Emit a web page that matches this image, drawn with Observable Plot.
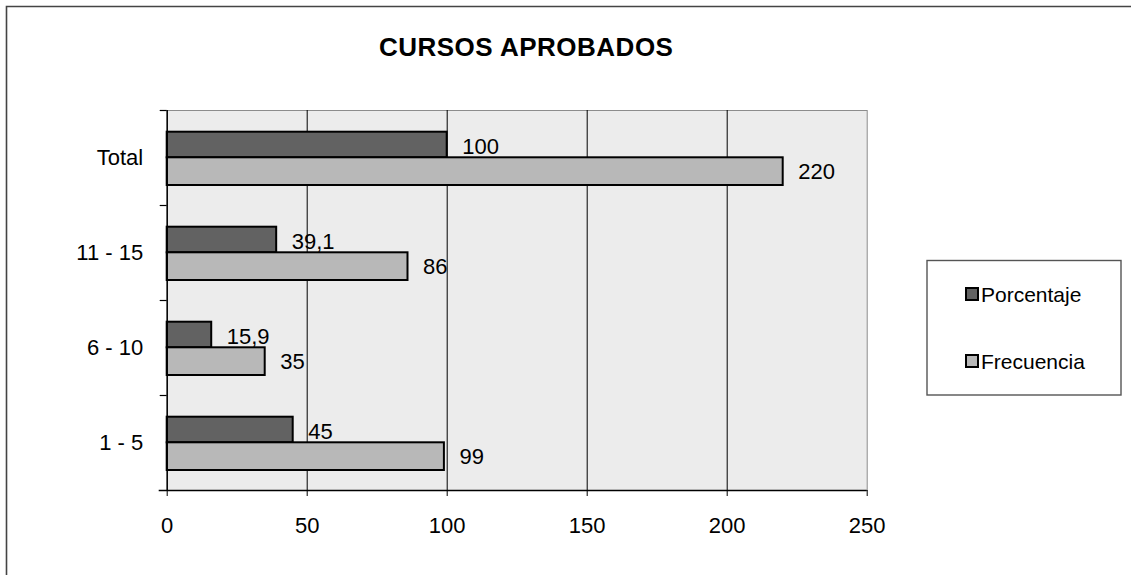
<!DOCTYPE html>
<html><head><meta charset="utf-8">
<script src="https://cdn.jsdelivr.net/npm/d3@7"></script>
<script src="https://cdn.jsdelivr.net/npm/@observablehq/plot@0.6"></script>
<style>html,body{margin:0;padding:0;background:#fff;} svg{display:block;}</style>
</head><body><div id="chart"></div>
<script>
const title = "CURSOS APROBADOS";
const categories = ["Total", "11 - 15", "6 - 10", "1 - 5"];
const seriesNames = ["Porcentaje", "Frecuencia"];
const porcentaje = [100, 39.1, 15.9, 45];
const frecuencia = [220, 86, 35, 99];
const xTicks = [0, 50, 100, 150, 200, 250];
const seriesColors = ["#626262", "#b8b8b8"];

const font = "'Liberation Sans', Arial, sans-serif";
const fmt = v => String(v).replace(".", ",");
const porRows = categories.map((c, i) => ({cat: c, series: seriesNames[0], value: porcentaje[i]}));
const freRows = categories.map((c, i) => ({cat: c, series: seriesNames[1], value: frecuencia[i]}));

const W = 1131, H = 575;
const plot = Plot.plot({
  width: W, height: H,
  marginLeft: 166.7, marginRight: W - 866.7, marginTop: 110, marginBottom: H - 490,
  style: {fontFamily: font, fontSize: "22px", background: "#fff", color: "#000"},
  x: {domain: [0, 250], ticks: xTicks},
  y: {domain: categories, padding: 0},
  color: {domain: seriesNames, range: seriesColors},
  marks: [
    Plot.frame({fill: "#ececec", stroke: "#8c8c8c", strokeWidth: 1}),
    Plot.gridX(xTicks.filter(v => v > 0 && v < 250), {stroke: "#000", strokeOpacity: 1, strokeWidth: 1}),
    Plot.barX(porRows, {x: "value", y: "cat", fill: "series", stroke: "#000", strokeWidth: 2, insetTop: 21.7, insetBottom: 47.7}),
    Plot.barX(freRows, {x: "value", y: "cat", fill: "series", stroke: "#000", strokeWidth: 2, insetTop: 47.3, insetBottom: 20}),
    Plot.text(porRows, {x: "value", y: "cat", text: d => fmt(d.value), dx: 15, dy: -11.5, textAnchor: "start", fontSize: 22, fill: "#000"}),
    Plot.text(freRows, {x: "value", y: "cat", text: d => fmt(d.value), dx: 15, dy: 13.5, textAnchor: "start", fontSize: 22, fill: "#000"}),
    Plot.ruleX([0], {stroke: "#000", strokeWidth: 1.5}),
    Plot.ruleY(categories, {y: d => d, dy: -47.5, x1: 0, x2: 0, insetLeft: -7, stroke: "#000", strokeWidth: 1.2}),
    Plot.ruleY([categories[categories.length - 1]], {y: d => d, dy: 47.5, insetLeft: -8, stroke: "#000", strokeWidth: 1.6}),
    Plot.axisY({tickSize: 0, tickPadding: 24, fontSize: 22, label: null}),
    Plot.axisX({ticks: xTicks, tickSize: 6, tickPadding: 21, fontSize: 22, label: null, stroke: "#000"}),
    Plot.text([title], {frameAnchor: "top", dx: 9, dy: -63, fontSize: 26, fontWeight: "bold", fill: "#000", lineAnchor: "middle", className: "chart-title"})
  ]
});

document.getElementById("chart").appendChild(plot);

const svg = d3.select(plot);
svg.selectAll(".chart-title text").style("letter-spacing", "0.5px");
// outer chart-area border (left and top edges visible)
svg.append("path").attr("d", `M6.5,${H} V6.5 H${W}`).attr("fill", "none").attr("stroke", "#444").attr("stroke-width", 1.6);

// legend
const lg = svg.append("g").attr("font-family", font).attr("font-size", 21).attr("text-anchor", "start");
lg.append("rect").attr("x", 927).attr("y", 260.5).attr("width", 194).attr("height", 134.5)
  .attr("fill", "#fff").attr("stroke", "#555").attr("stroke-width", 1.4);
const legendY = [294, 361];
seriesNames.forEach((s, i) => {
  lg.append("rect").attr("x", 966).attr("y", legendY[i] - 6).attr("width", 12).attr("height", 12)
    .attr("fill", seriesColors[i]).attr("stroke", "#000").attr("stroke-width", 2);
  lg.append("text").attr("x", 981).attr("y", legendY[i]).attr("dy", "0.36em").attr("text-anchor", "start").attr("fill", "#000").text(s);
});
</script>
</body></html>
